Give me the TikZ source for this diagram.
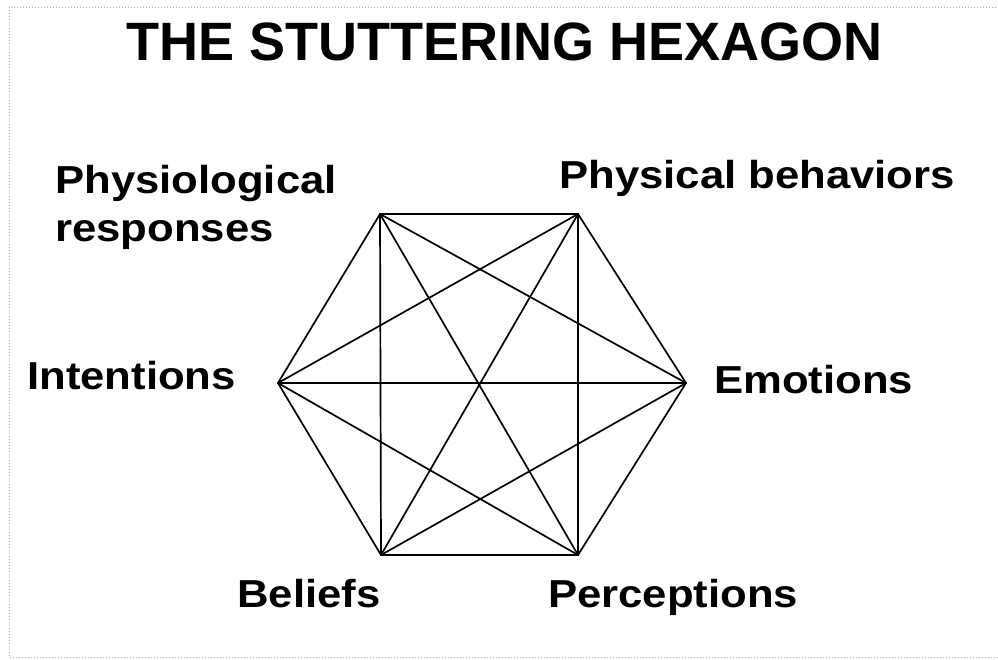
\documentclass[tikz,border=0pt]{standalone}
\usepackage{fontspec}
\newfontfamily\titlefont{Liberation Sans}[FakeBold=0]
\newfontfamily\labfont{Liberation Sans}[FakeStretch=1.12]
\begin{document}
\begin{tikzpicture}[x=1pt,y=-1pt,
  edge/.style={line width=1.7pt, black, line cap=round},
  lab/.style={inner sep=0pt, font=\labfont\bfseries\fontsize{39}{48}\selectfont, align=left},
  ttl/.style={inner sep=0pt, font=\titlefont\bfseries\fontsize{54}{60}\selectfont}]
\useasboundingbox (0,0) rectangle (998,659);
\fill[white] (0,0) rectangle (998,659);
\draw[gray!70, line width=1pt, dotted] (1005,7) -- (9,7) -- (9,657) -- (1005,657);
% vertices
\coordinate (tl) at (380,214);
\coordinate (tr) at (578,214);
\coordinate (r)  at (686,383);
\coordinate (br) at (578,555);
\coordinate (bl) at (381,555);
\coordinate (l)  at (278,383);
% complete graph
\foreach \a/\b in {tl/tr,tl/r,tl/br,tl/bl,tl/l,tr/r,tr/br,tr/bl,tr/l,r/br,r/bl,r/l,br/bl,br/l,bl/l}
  \draw[edge] (\a) -- (\b);
% labels
\node[ttl, anchor=base] (title) at (504.5,60) {THE STUTTERING HEXAGON};
\node[lab, anchor=north west] (phys) at (55,165) {Physiological\\responses};
\node[lab, anchor=base west] (beh) at (559,188) {Physical behaviors};
\node[lab, anchor=base west] (int) at (27,389) {Intentions};
\node[lab, anchor=base west] (emo) at (714,393) {Emotions};
\node[lab, anchor=base west] (bel) at (237,607) {Beliefs};
\node[lab, anchor=base west] (per) at (548,607) {Perceptions};
\end{tikzpicture}
\end{document}
